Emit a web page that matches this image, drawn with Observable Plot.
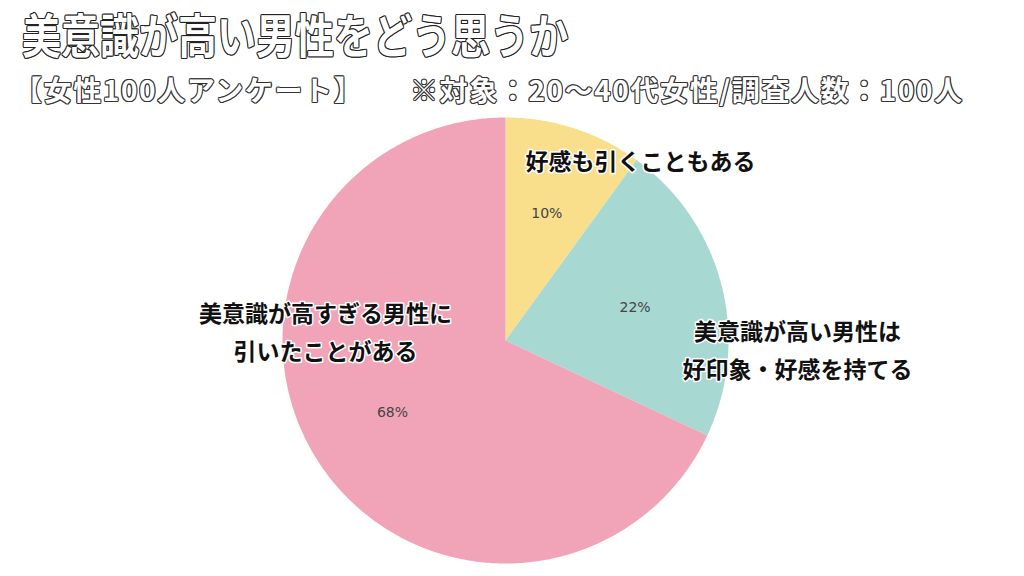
<!DOCTYPE html>
<html><head><meta charset="utf-8">
<script src="https://cdn.jsdelivr.net/npm/d3@7"></script>
<script src="https://cdn.jsdelivr.net/npm/@observablehq/plot@0.6"></script>
<style>
html,body{margin:0;padding:0;background:#fff;width:1024px;height:576px;overflow:hidden;}
#head{position:relative;height:110px;width:1024px;font-family:"Noto Sans CJK JP",sans-serif;}
#title{position:absolute;left:22px;top:6px;font-size:47px;font-weight:700;color:#fff;white-space:nowrap;transform:scaleX(0.83);transform-origin:left top;line-height:1.15;
  text-shadow:1.2px 0 0 #222,-1.2px 0 0 #222,0 1.2px 0 #222,0 -1.2px 0 #222,0.9px 0.9px 0 #222,-0.9px -0.9px 0 #222,0.9px -0.9px 0 #222,-0.9px 0.9px 0 #222;}
#sub1,#sub2{position:absolute;top:73px;font-size:28px;font-weight:700;color:#fff;white-space:nowrap;line-height:1.2;
  text-shadow:1.1px 0 0 #333,-1.1px 0 0 #333,0 1.1px 0 #333,0 -1.1px 0 #333,0.8px 0.8px 0 #333,-0.8px -0.8px 0 #333,0.8px -0.8px 0 #333,-0.8px 0.8px 0 #333;}
#sub1{left:14px;letter-spacing:1.6px;}
#sub2{left:410px;letter-spacing:1.6px;}
#chart svg{display:block;}
</style></head>
<body>
<div id="head">
<div id="title"></div>
<div id="sub1"></div>
<div id="sub2"></div>
</div>
<div id="chart"></div>
<script>
// ---- data ----
const titleText = "美意識が高い男性をどう思うか";
const subtitleLeft = "【女性100人アンケート】";
const subtitleRight = "※対象：20～40代女性/調査人数：100人";
const categories = ["好感も引くこともある", "美意識が高い男性は\n好印象・好感を持てる", "美意識が高すぎる男性に\n引いたことがある"];
const values = [10, 22, 68];
const pctLabels = ["10%", "22%", "68%"];
const colors = ["#F9DF8C", "#A7D8D2", "#F1A4B7"];

// ---- layout (pixels, relative to pie centre) ----
const W = 1024, H = 466;
const cx = 505, cy = 230;          // pie centre inside the svg
const R = 223;                     // radius
const pctRadius = 0.6 * R;
const labelLayout = [
  {dx: 20, dy: 183, anchor: "start"},
  {dx: 292, dy: -6, anchor: "middle"},
  {dx: -180, dy: 12, anchor: "middle"}
];

document.getElementById("title").textContent = titleText;
document.getElementById("sub1").textContent = subtitleLeft;
document.getElementById("sub2").textContent = subtitleRight;

const arcs = d3.pie().sort(null).value(d => d)(values);

// slice outlines in the plot's coordinate frame (y up, origin at pie centre)
const slicePts = [];
arcs.forEach((a, i) => {
  slicePts.push({cat: categories[i], x: 0, y: 0});
  const n = Math.max(2, Math.ceil((a.endAngle - a.startAngle) / 0.01));
  for (let k = 0; k <= n; k++) {
    const t = a.startAngle + (a.endAngle - a.startAngle) * k / n;
    slicePts.push({cat: categories[i], x: R * Math.sin(t), y: R * Math.cos(t)});
  }
});

const pctData = arcs.map((a, i) => {
  const m = (a.startAngle + a.endAngle) / 2;
  return {label: pctLabels[i], x: pctRadius * Math.sin(m), y: pctRadius * Math.cos(m)};
});

const catData = categories.map((c, i) => ({label: c, x: labelLayout[i].dx, y: labelLayout[i].dy, anchor: labelLayout[i].anchor}));

const labelStyle = {x: "x", y: "y", text: "label", fill: "#111", stroke: "#fff", strokeWidth: 3, fontSize: 23, fontWeight: 700, lineHeight: 1.65, fontFamily: "Noto Sans CJK JP, sans-serif"};

const chart = Plot.plot({
  width: W, height: H,
  margin: 0,
  x: {domain: [-cx, W - cx], axis: null},
  y: {domain: [-(H - cy), cy], axis: null},
  color: {domain: categories, range: colors},
  style: {background: "#fff", overflow: "visible"},
  marks: [
    Plot.line(slicePts, {x: "x", y: "y", z: "cat", fill: "cat", stroke: null, curve: "linear-closed"}),
    Plot.text(pctData, {x: "x", y: "y", text: "label", fill: "#444", fontSize: 14, fontFamily: "DejaVu Sans, sans-serif"}),
    Plot.text(catData.filter(d => d.anchor === "start"), {...labelStyle, textAnchor: "start"}),
    Plot.text(catData.filter(d => d.anchor === "middle"), {...labelStyle, textAnchor: "middle"})
  ]
});
document.getElementById("chart").appendChild(chart);
</script>
</body></html>
